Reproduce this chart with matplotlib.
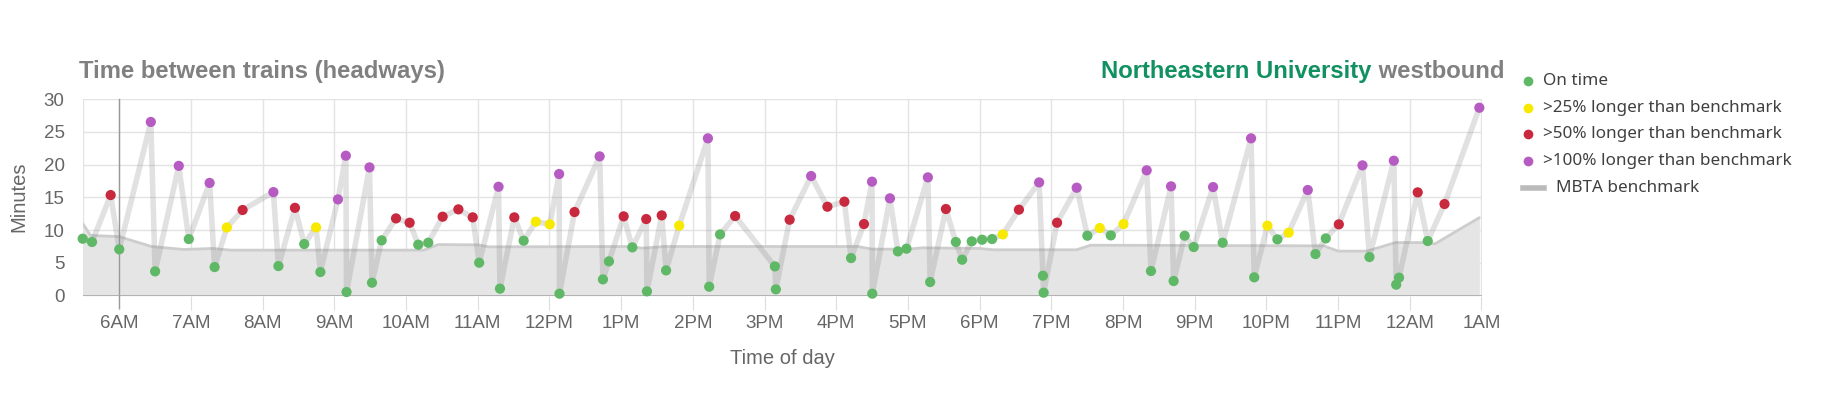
import matplotlib
matplotlib.use("Agg")
import matplotlib.pyplot as plt
from matplotlib.lines import Line2D

# ---------------- data ----------------
# arrival times in hours after midnight (24 = 12AM next day)
times = [5.49, 5.62, 5.88, 6.00, 6.44, 6.50, 6.83, 6.97, 7.26, 7.33, 7.50, 7.72, 8.15, 8.22, 8.45, 8.58,
         8.745, 8.805, 9.05, 9.16, 9.17, 9.49, 9.525, 9.66, 9.86, 10.05, 10.17, 10.31, 10.51, 10.73, 10.93,
         11.02, 11.29, 11.31, 11.51, 11.64, 11.81,
         12.005, 12.135, 12.14, 12.35, 12.70, 12.746, 12.83, 13.035, 13.156, 13.35, 13.36, 13.566, 13.627,
         13.81, 14.21, 14.228, 14.38, 14.59,
         15.144, 15.158, 15.35, 15.65, 15.877, 16.114, 16.207, 16.387, 16.499, 16.503, 16.749, 16.86, 16.98,
         17.278, 17.31, 17.53, 17.668, 17.756, 17.89, 18.035, 18.174,
         18.324, 18.548, 18.83, 18.883, 18.893, 19.08, 19.354, 19.503, 19.676, 19.83, 20.007, 20.33, 20.39,
         20.67, 20.706, 20.86, 20.986, 21.256, 21.39,
         21.786, 21.83, 22.014, 22.153, 22.31, 22.577, 22.684, 22.828, 23.01, 23.34, 23.437, 23.777, 23.81,
         23.85, 24.11, 24.25, 24.484, 24.97]

headways = [8.69, 8.19, 15.35, 7.07, 26.5, 3.71, 19.8, 8.64, 17.2, 4.37, 10.4, 13.07, 15.8, 4.52, 13.4, 7.88,
            10.42, 3.61, 14.69, 21.35, 0.56, 19.57, 1.98, 8.44, 11.79, 11.13, 7.78, 8.08, 12.05, 13.17, 11.95,
            5.03, 16.62, 1.07, 11.95, 8.39, 11.29,
            10.88, 18.56, 0.31, 12.76, 21.25, 2.49, 5.24, 12.1, 7.37, 11.69, 0.66, 12.25, 3.86,
            10.68, 24.0, 1.37, 9.35, 12.15,
            4.47, 0.97, 11.59, 18.25, 13.57, 14.34, 5.74, 10.93, 17.39, 0.31, 14.85, 6.76, 7.17,
            18.05, 2.08, 13.22, 8.19, 5.49, 8.29, 8.54, 8.64,
            9.35, 13.12, 17.28, 3.05, 0.46, 11.13, 16.47, 9.15, 10.32, 9.2, 10.93, 19.12, 3.76,
            16.68, 2.24, 9.15, 7.42, 16.57, 8.08,
            24.0, 2.8, 10.68, 8.59, 9.61, 16.12, 6.35, 8.74, 10.88, 19.88, 5.9, 20.59, 1.68,
            2.75, 15.76, 8.34, 13.98, 28.67]

# G = on time, Y = >25%, R = >50%, P = >100% longer than benchmark
status = ['G', 'G', 'R', 'G', 'P', 'G', 'P', 'G', 'P', 'G', 'Y', 'R', 'P', 'G', 'R', 'G',
          'Y', 'G', 'P', 'P', 'G', 'P', 'G', 'G', 'R', 'R', 'G', 'G', 'R', 'R', 'R',
          'G', 'P', 'G', 'R', 'G', 'Y',
          'Y', 'P', 'G', 'R', 'P', 'G', 'G', 'R', 'G', 'R', 'G', 'R', 'G',
          'Y', 'P', 'G', 'G', 'R',
          'G', 'G', 'R', 'P', 'R', 'R', 'G', 'R', 'P', 'G', 'P', 'G', 'G',
          'P', 'G', 'R', 'G', 'G', 'G', 'G', 'G',
          'Y', 'R', 'P', 'G', 'G', 'R', 'P', 'G', 'Y', 'G', 'Y', 'P', 'G',
          'P', 'G', 'G', 'G', 'P', 'G',
          'P', 'G', 'Y', 'G', 'Y', 'P', 'G', 'G', 'R', 'P', 'G', 'P', 'G',
          'G', 'R', 'G', 'R', 'P']

bench_times = [5.49, 5.6, 6.0, 6.45, 6.9, 7.3, 7.55, 10.25, 10.45, 11.0, 11.15, 13.1, 13.3, 13.6, 16.3,
               16.5, 17.0, 17.2, 18.0, 18.2, 19.35, 19.55, 22.8, 23.0, 23.4, 23.8, 24.2, 24.35, 24.97]
bench_values = [11.0, 9.2, 9.0, 7.5, 7.05, 7.2, 6.95, 6.95, 7.8, 7.75, 7.45, 7.5, 7.25, 7.5, 7.5,
                7.1, 7.1, 7.3, 7.2, 7.0, 7.0, 7.7, 7.6, 6.8, 6.8, 8.1, 8.1, 7.9, 11.9]

tick_hours = list(range(6, 26))
tick_labels = ['6AM', '7AM', '8AM', '9AM', '10AM', '11AM', '12PM', '1PM', '2PM', '3PM', '4PM', '5PM',
               '6PM', '7PM', '8PM', '9PM', '10PM', '11PM', '12AM', '1AM']

legend_labels = ['On time', '>25% longer than benchmark', '>50% longer than benchmark',
                 '>100% longer than benchmark', 'MBTA benchmark']

# ---------------- style ----------------
colors = {'G': '#5fb865', 'Y': '#f7ea00', 'R': '#c8293f', 'P': '#b65bc2'}
TICK_FONT = ['Liberation Sans Narrow', 'Liberation Sans', 'DejaVu Sans']
TITLE_FONT = ['Liberation Sans', 'DejaVu Sans']
LEG_FONT = ['Noto Sans', 'DejaVu Sans']

W, H = 1846, 397
fig = plt.figure(figsize=(W / 100, H / 100), dpi=100)
left, right, top, bottom = 82.7, 1481.5, 99.0, 295.7
ax = fig.add_axes([left / W, 1 - bottom / H, (right - left) / W, (bottom - top) / H])

ax.set_xlim(5.49, 25.0)
ax.set_ylim(0, 30)

# grid
for yv in range(5, 31, 5):
    ax.axhline(yv, color='#e3e3e3', lw=1.0, zorder=0)
for hv in tick_hours:
    ax.axvline(hv, color='#e3e3e3', lw=1.0, zorder=0)
ax.axvline(5.49, color='#e3e3e3', lw=1.0, zorder=0)

# benchmark fill + line
ax.fill_between(bench_times, 0, bench_values, color='#e5e5e5', lw=0, zorder=1)
ax.plot(bench_times, bench_values, color='#cdcdcd', lw=2.0, zorder=2, solid_capstyle='round')

# crosshair at 6AM (extends below the axis)
ax.plot([6.0, 6.0], [-1.9, 30], color='#999999', lw=1.0, zorder=2, clip_on=False)

# headway line
ax.plot(times, headways, color='#808080', alpha=0.23, lw=4.0, zorder=3, solid_joinstyle='round')

# points
for code in ['G', 'Y', 'R', 'P']:
    xs = [t for t, s in zip(times, status) if s == code]
    ys = [v for v, s in zip(headways, status) if s == code]
    ax.scatter(xs, ys, s=54, color=colors[code], edgecolors='none', zorder=5, clip_on=False)

ax.axhline(0, color='#a8a8a8', lw=1.2, zorder=4)

for sp in ax.spines.values():
    sp.set_visible(False)

ax.set_xticks(tick_hours)
ax.set_xticklabels(tick_labels)
ax.set_yticks(range(0, 31, 5))
ax.tick_params(axis='x', length=10, color='#dddddd', pad=4, labelsize=13.5, labelcolor='#666666')
ax.tick_params(axis='y', length=0, pad=13, labelsize=13.5, labelcolor='#666666')
for lab in ax.get_xticklabels() + ax.get_yticklabels():
    lab.set_family(TICK_FONT)

ax.set_xlabel('Time of day', fontsize=14.5, color='#666666', family=TICK_FONT, labelpad=12)
fig.text(19 / W, 1 - 197 / H, 'Minutes', rotation=90, ha='center', va='center', fontsize=14.5,
         color='#666666', family=TICK_FONT)

# titles
TS = 17.2
fig.text(79 / W, 1 - 78 / H, 'Time between trains (headways)', fontsize=TS, fontweight='bold',
         color='#808080', family=TITLE_FONT, ha='left', va='baseline')
t2 = fig.text(1504 / W, 1 - 78 / H, ' westbound', fontsize=TS, fontweight='bold',
              color='#808080', family=TITLE_FONT, ha='right', va='baseline')
fig.canvas.draw()
bb = t2.get_window_extent()
fig.text(bb.x0 / W, 1 - 78 / H, 'Northeastern University', fontsize=TS, fontweight='bold',
         color='#119060', family=TITLE_FONT, ha='right', va='baseline')

# legend (manual, in pixel coords)
row_y = [80.7, 107.7, 134.3, 161.0, 187.7]
for i, code in enumerate(['G', 'Y', 'R', 'P']):
    fig.add_artist(Line2D([1527.7 / W], [1 - row_y[i] / H], marker='o', markersize=7, linestyle='none',
                          color=colors[code], markeredgewidth=0))
    fig.text(1543 / W, 1 - row_y[i] / H, legend_labels[i], fontsize=12.3, color='#404040',
             family=LEG_FONT, ha='left', va='center')
fig.add_artist(Line2D([1523 / W, 1544 / W], [1 - row_y[4] / H, 1 - row_y[4] / H], color='#bbbbbb', lw=4))
fig.text(1556 / W, 1 - row_y[4] / H, legend_labels[4], fontsize=12.3, color='#404040',
         family=LEG_FONT, ha='left', va='center')

fig.savefig('out.png', dpi=100)
